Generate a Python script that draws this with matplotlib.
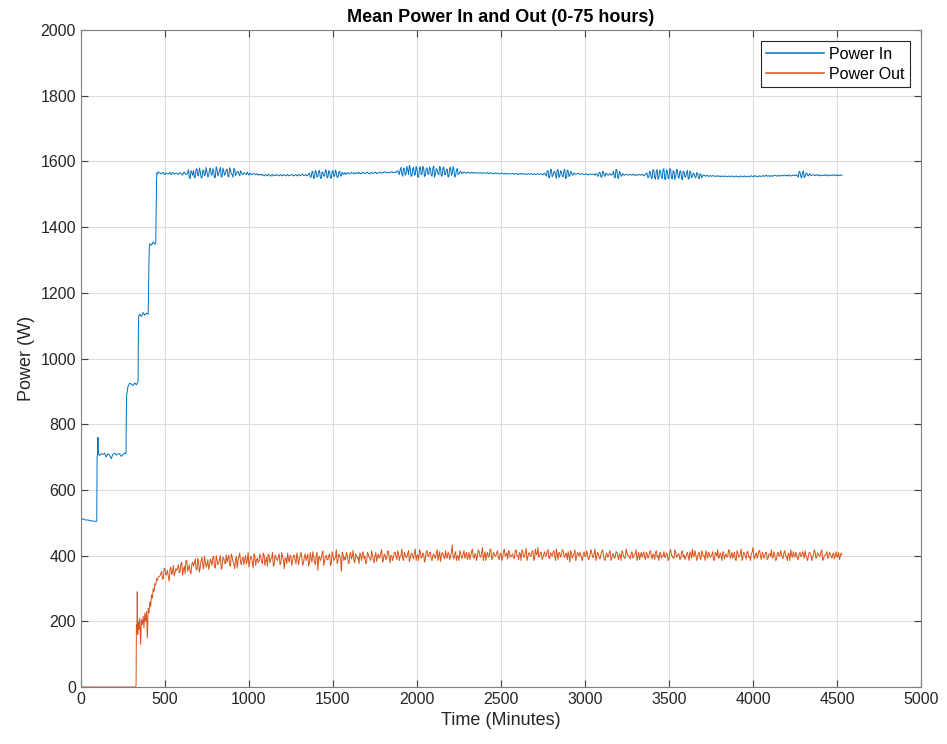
import numpy as np
import matplotlib
matplotlib.use("Agg")
from matplotlib import pyplot as plt

# ---- Power In: start-up steps (explicit times) ----
in_step_t = [0, 1, 2, 3, 4, 5, 10, 20, 30, 40, 50, 60, 70, 80, 90, 94, 96, 100, 101, 102,
             110, 120, 130, 140, 150, 160, 170, 180, 190, 200, 210, 220, 230, 240, 250, 260,
             268, 270, 272, 274, 280, 285, 290, 300, 310, 320, 330, 340, 342, 344, 350, 360,
             370, 380, 390, 400, 405, 407, 410, 420, 430, 440, 445, 450, 452, 455, 460]
in_step_v = [0, 300, 510, 515, 512, 510, 512, 510, 508, 509, 507, 506, 505, 505, 504, 505, 700, 715, 760, 712,
             705, 710, 708, 712, 700, 710, 706, 695, 708, 712, 706, 710, 710, 702, 708, 712,
             710, 830, 890, 895, 915, 920, 925, 922, 918, 926, 920, 930, 1100, 1130, 1135, 1128,
             1140, 1132, 1138, 1135, 1300, 1340, 1350, 1345, 1355, 1348, 1352, 1540, 1565, 1562, 1568]

# ---- Power In: steady part, minutes 470, 480, ... 4530 ----
in_steady = [
    1565, 1562, 1566, 1560, 1564, 1562, 1567, 1561, 1565, 1563,
    1564, 1560, 1566, 1562, 1565, 1563, 1561, 1575, 1548, 1566,
    1572, 1552, 1578, 1556, 1570, 1549, 1574, 1560, 1568, 1555,
    1580, 1558, 1571, 1552, 1576, 1562, 1582, 1555, 1570, 1563,
    1577, 1553, 1574, 1560, 1579, 1557, 1568, 1562, 1572, 1560,
    1566, 1562, 1568, 1558, 1564, 1561, 1563, 1559, 1562, 1560,
    1558, 1561, 1556, 1560, 1557, 1559, 1555, 1560, 1558, 1557,
    1559, 1556, 1560, 1557, 1558, 1556, 1561, 1557, 1559, 1558,
    1557, 1560, 1556, 1559, 1558, 1561, 1557, 1560, 1558, 1565,
    1552, 1570, 1550, 1568, 1555, 1573, 1548, 1566, 1556, 1571,
    1553, 1569, 1549, 1572, 1556, 1566, 1552, 1570, 1558, 1563,
    1566, 1561, 1565, 1563, 1567, 1564, 1562, 1566, 1563, 1565,
    1564, 1567, 1563, 1566, 1565, 1562, 1567, 1564, 1566, 1563,
    1565, 1567, 1564, 1566, 1568, 1565, 1567, 1566, 1569, 1566,
    1568, 1570, 1567, 1575, 1562, 1580, 1558, 1585, 1560, 1578,
    1556, 1582, 1560, 1576, 1553, 1584, 1562, 1579, 1558, 1581,
    1561, 1577, 1555, 1586, 1562, 1574, 1559, 1580, 1557, 1583,
    1560, 1577, 1554, 1582, 1563, 1575, 1556, 1579, 1562, 1570,
    1566, 1568, 1565, 1567, 1566, 1564, 1567, 1565, 1566, 1564,
    1565, 1566, 1563, 1565, 1564, 1566, 1563, 1565, 1562, 1564,
    1563, 1565, 1562, 1564, 1563, 1562, 1564, 1561, 1563, 1562,
    1564, 1561, 1563, 1560, 1562, 1564, 1561, 1563, 1560, 1562,
    1561, 1563, 1560, 1562, 1561, 1563, 1560, 1562, 1559, 1564,
    1555, 1572, 1552, 1575, 1558, 1570, 1548, 1574, 1556, 1568,
    1553, 1576, 1550, 1571, 1557, 1566, 1560, 1563, 1561, 1564,
    1562, 1563, 1561, 1560, 1562, 1559, 1561, 1560, 1562, 1558,
    1563, 1556, 1566, 1552, 1568, 1555, 1561, 1558, 1562, 1560,
    1570, 1550, 1574, 1548, 1566, 1556, 1560, 1559, 1561, 1558,
    1560, 1558, 1561, 1557, 1559, 1560, 1558, 1561, 1556, 1560,
    1563, 1553, 1568, 1550, 1572, 1546, 1575, 1552, 1570, 1548,
    1578, 1545, 1572, 1550, 1576, 1547, 1569, 1553, 1574, 1549,
    1571, 1544, 1568, 1552, 1573, 1548, 1566, 1555, 1562, 1550,
    1564, 1547, 1560, 1556, 1558, 1555, 1557, 1556, 1555, 1557,
    1556, 1554, 1557, 1555, 1553, 1556, 1554, 1555, 1553, 1556,
    1554, 1555, 1553, 1556, 1554, 1552, 1555, 1553, 1556, 1554,
    1555, 1553, 1556, 1554, 1557, 1555, 1553, 1556, 1554, 1557,
    1555, 1558, 1556, 1554, 1557, 1555, 1558, 1556, 1557, 1555,
    1558, 1556, 1559, 1557, 1555, 1558, 1556, 1559, 1557, 1560,
    1552, 1568, 1550, 1572, 1554, 1565, 1556, 1562, 1558, 1560,
    1557, 1560, 1558, 1556, 1559, 1557, 1560, 1558, 1556, 1559,
    1557, 1560, 1558, 1556, 1559, 1557, 1558]

# ---- Power In: in-between readings, minutes 475, 485, ... 4525 ----
in_mid = [
    1563, 1566, 1561, 1565, 1562, 1564, 1560, 1566, 1562, 1564,
    1562, 1565, 1563, 1558, 1568, 1560, 1565, 1550, 1572, 1558,
    1550, 1575, 1558, 1580, 1552, 1572, 1556, 1582, 1553, 1576,
    1560, 1578, 1550, 1584, 1556, 1574, 1552, 1580, 1558, 1575,
    1555, 1581, 1562, 1552, 1575, 1564, 1570, 1556, 1566, 1561,
    1563, 1560, 1562, 1564, 1559, 1563, 1560, 1562, 1558, 1561,
    1560, 1557, 1559, 1556, 1561, 1557, 1559, 1556, 1559, 1560,
    1557, 1559, 1556, 1560, 1557, 1559, 1556, 1558, 1560, 1556,
    1559, 1557, 1560, 1556, 1560, 1557, 1559, 1556, 1561, 1552,
    1568, 1548, 1573, 1552, 1570, 1549, 1568, 1555, 1575, 1550,
    1572, 1550, 1570, 1554, 1574, 1551, 1568, 1555, 1567, 1560,
    1563, 1566, 1562, 1565, 1564, 1566, 1563, 1565, 1567, 1562,
    1566, 1563, 1565, 1567, 1563, 1566, 1564, 1565, 1567, 1564,
    1567, 1565, 1566, 1568, 1566, 1567, 1565, 1568, 1566, 1567,
    1566, 1572, 1560, 1582, 1555, 1578, 1562, 1575, 1588, 1555,
    1578, 1558, 1585, 1552, 1580, 1560, 1586, 1554, 1577, 1561,
    1583, 1558, 1580, 1552, 1578, 1563, 1585, 1555, 1579, 1560,
    1575, 1553, 1580, 1558, 1584, 1552, 1574, 1560, 1568, 1563,
    1565, 1567, 1564, 1566, 1565, 1567, 1564, 1566, 1565, 1565,
    1564, 1565, 1566, 1564, 1565, 1563, 1566, 1564, 1563, 1565,
    1564, 1563, 1562, 1565, 1562, 1564, 1562, 1563, 1562, 1563,
    1562, 1563, 1561, 1563, 1561, 1562, 1563, 1562, 1561, 1563,
    1562, 1561, 1563, 1560, 1562, 1561, 1562, 1561, 1563, 1560,
    1570, 1550, 1576, 1553, 1568, 1558, 1575, 1551, 1572, 1555,
    1572, 1548, 1574, 1554, 1570, 1558, 1565, 1561, 1563, 1562,
    1561, 1562, 1560, 1562, 1560, 1561, 1562, 1560, 1561, 1562,
    1555, 1567, 1553, 1570, 1556, 1565, 1559, 1562, 1558, 1561,
    1552, 1576, 1551, 1570, 1555, 1563, 1558, 1561, 1559, 1560,
    1559, 1561, 1558, 1560, 1558, 1561, 1559, 1560, 1558, 1565,
    1550, 1570, 1548, 1576, 1550, 1572, 1545, 1574, 1552, 1575,
    1546, 1574, 1548, 1578, 1550, 1572, 1545, 1576, 1552, 1570,
    1548, 1570, 1553, 1566, 1546, 1571, 1550, 1565, 1552, 1566,
    1552, 1563, 1550, 1559, 1556, 1558, 1554, 1557, 1555, 1556,
    1555, 1556, 1554, 1556, 1555, 1554, 1556, 1554, 1555, 1554,
    1556, 1553, 1555, 1554, 1553, 1556, 1554, 1555, 1553, 1555,
    1554, 1556, 1555, 1553, 1556, 1554, 1556, 1555, 1556, 1555,
    1557, 1555, 1557, 1556, 1555, 1558, 1557, 1555, 1558, 1556,
    1557, 1558, 1556, 1558, 1559, 1556, 1558, 1557, 1558, 1555,
    1570, 1553, 1566, 1551, 1563, 1558, 1561, 1557, 1559, 1558,
    1559, 1557, 1559, 1557, 1558, 1558, 1556, 1559, 1557, 1558,
    1559, 1557, 1559, 1558, 1557, 1559]

# ---- Power Out: start-up (explicit times) ----
out_step_t = [0, 100, 200, 300, 325, 328, 330, 333, 335, 338, 340, 345, 350, 355, 360, 365, 370,
              375, 380, 385, 390, 395, 400, 405, 410, 415, 420, 425, 430, 435, 440, 445, 450,
              455, 460]
out_step_v = [0, 0, 0, 0, 0, 5, 190, 170, 290, 160, 200, 175, 210, 130, 205, 190, 215,
              180, 225, 200, 230, 150, 240, 225, 260, 245, 280, 270, 300, 290, 315, 310, 330,
              325, 335]

# ---- Power Out: minutes 470, 480, ... 4530 ----
out_steady = [
    338, 352, 330, 360, 345, 335, 358, 342, 370, 348,
    355, 372, 350, 380, 358, 345, 385, 362, 350, 375,
    368, 390, 355, 378, 365, 395, 360, 383, 372, 358,
    390, 370, 398, 362, 385, 378, 400, 365, 392, 375,
    380, 402, 368, 395, 375, 388, 362, 398, 380, 392,
    372, 400, 385, 365, 398, 380, 405, 370, 392, 384,
    395, 375, 402, 385, 368, 400, 390, 410, 372, 395,
    385, 405, 378, 398, 360, 392, 408, 380, 396, 385,
    402, 375, 395, 388, 410, 370, 398, 385, 405, 378,
    392, 412, 380, 400, 355, 398, 390, 415, 382, 402,
    388, 405, 375, 400, 392, 418, 385, 398, 352, 404,
    395, 410, 383, 402, 390, 416, 378, 400, 395, 408,
    385, 412, 398, 380, 405, 392, 415, 388, 400, 382,
    405, 395, 418, 385, 402, 390, 412, 378, 400, 395,
    410, 388, 405, 398, 420, 385, 402, 395, 415, 392,
    408, 390, 420, 400, 385, 412, 395, 405, 388, 415,
    398, 410, 385, 405, 392, 418, 400, 382, 410, 395,
    415, 392, 405, 398, 432, 390, 412, 400, 385, 408,
    395, 415, 402, 388, 410, 398, 420, 392, 405, 400,
    412, 395, 425, 400, 385, 410, 398, 418, 392, 405,
    400, 415, 388, 408, 395, 420, 402, 390, 412, 398,
    405, 392, 418, 400, 410, 385, 412, 398, 422, 395,
    408, 400, 415, 390, 405, 425, 398, 410, 395, 412,
    400, 418, 392, 405, 410, 398, 420, 388, 408, 402,
    415, 395, 405, 412, 380, 408, 400, 418, 395, 405,
    410, 392, 405, 398, 415, 388, 402, 410, 395, 420,
    398, 405, 390, 412, 400, 385, 408, 398, 415, 392,
    405, 395, 410, 388, 402, 415, 398, 392, 408, 400,
    390, 412, 398, 405, 385, 410, 400, 395, 412, 388,
    405, 398, 415, 390, 402, 410, 395, 385, 408, 400,
    412, 395, 405, 388, 418, 400, 392, 410, 398, 405,
    390, 415, 402, 395, 410, 385, 405, 420, 398, 402,
    395, 410, 388, 405, 400, 415, 392, 408, 398, 412,
    385, 405, 418, 395, 402, 410, 390, 405, 398, 415,
    400, 392, 410, 385, 408, 398, 420, 395, 405, 390,
    412, 398, 405, 425, 390, 408, 400, 415, 388, 405,
    398, 410, 392, 405, 418, 395, 402, 388, 410, 400,
    405, 392, 415, 398, 408, 385, 402, 412, 395, 405,
    390, 410, 398, 405, 415, 392, 400, 408, 385, 402,
    410, 395, 405, 398, 418, 390, 402, 412, 395, 405,
    392, 408, 400, 395, 410, 398, 402]

# ---- Power Out: in-between readings, minutes 475, 485, ... 4525 ----
out_mid = [
    345, 328, 362, 340, 355, 322, 365, 350, 338, 360,
    362, 348, 375, 340, 368, 385, 352, 372, 345, 380,
    378, 360, 392, 350, 385, 372, 398, 365, 388, 370,
    382, 395, 365, 400, 372, 390, 358, 395, 378, 402,
    392, 370, 405, 382, 360, 398, 385, 408, 372, 395,
    390, 375, 410, 382, 395, 362, 400, 388, 378, 405,
    382, 408, 370, 395, 405, 378, 392, 368, 402, 388,
    398, 372, 410, 385, 392, 375, 388, 402, 370, 400,
    385, 408, 372, 400, 392, 378, 405, 395, 368, 410,
    380, 398, 372, 410, 392, 385, 405, 370, 398, 388,
    400, 370, 412, 385, 395, 375, 405, 392, 410, 385,
    388, 402, 375, 410, 398, 385, 405, 392, 375, 402,
    405, 390, 375, 410, 395, 385, 402, 378, 410, 398,
    392, 410, 380, 405, 388, 415, 395, 400, 385, 410,
    398, 415, 385, 402, 390, 410, 395, 408, 382, 405,
    395, 410, 385, 402, 418, 392, 408, 380, 412, 398,
    410, 388, 402, 395, 408, 385, 412, 398, 405, 390,
    398, 410, 388, 412, 395, 405, 385, 398, 415, 392,
    405, 392, 410, 398, 388, 412, 395, 405, 385, 418,
    398, 408, 385, 412, 402, 395, 420, 388, 410, 398,
    410, 392, 405, 385, 412, 398, 408, 415, 395, 402,
    392, 415, 400, 388, 405, 418, 395, 410, 385, 408,
    398, 412, 385, 420, 402, 395, 410, 388, 405, 398,
    412, 392, 408, 398, 415, 385, 405, 410, 395, 418,
    398, 408, 388, 400, 415, 392, 405, 385, 410, 398,
    402, 385, 412, 398, 405, 390, 418, 395, 408, 385,
    410, 392, 405, 418, 388, 402, 395, 410, 385, 405,
    392, 412, 398, 405, 385, 410, 392, 420, 400, 395,
    408, 392, 405, 418, 398, 388, 410, 402, 395, 410,
    392, 412, 398, 405, 388, 415, 400, 410, 392, 398,
    395, 408, 385, 412, 400, 392, 418, 395, 405, 388,
    410, 395, 388, 405, 398, 412, 392, 400, 415, 385,
    408, 392, 415, 398, 385, 405, 410, 395, 402, 388,
    410, 398, 392, 408, 385, 412, 400, 395, 418, 392,
    410, 402, 388, 415, 395, 405, 385, 410, 398, 412,
    395, 385, 410, 398, 405, 392, 415, 398, 410, 392,
    410, 388, 405, 398, 392, 412, 385, 408, 398, 415,
    392, 410, 398, 385, 405, 418, 395, 400, 410, 388,
    405, 398, 412, 392, 400, 385, 410, 402, 395, 418,
    392, 408, 398, 412, 385, 400, 405, 392, 410, 398,
    405, 390, 412, 398, 388, 408]

steady_t = np.arange(470, 4531, 10)
mid_t = np.arange(475, 4526, 10)


def join(step_t, step_v, steady_v, mid_v):
    t = np.concatenate([step_t, steady_t, mid_t])
    v = np.concatenate([step_v, steady_v, mid_v])
    order = np.argsort(t, kind='stable')
    return t[order], v[order]


t_in, p_in = join(in_step_t, in_step_v, in_steady, in_mid)
t_out, p_out = join(out_step_t, out_step_v, out_steady, out_mid)

plt.rcParams['font.family'] = ['Liberation Sans', 'DejaVu Sans']

fig = plt.figure(figsize=(9.47, 7.44), dpi=100)
ax = fig.add_axes([0.0855, 0.0766, 0.887, 0.883])

ax.plot(t_in, p_in, color='#0072BD', lw=0.7, label='Power In')
ax.plot(t_out, p_out, color='#D95319', lw=0.7, label='Power Out')

ax.set_xlim(0, 5000)
ax.set_ylim(0, 2000)
ax.set_xticks(np.arange(0, 5001, 500))
ax.set_yticks(np.arange(0, 2001, 200))
ax.grid(True, color='#dcdcdc', lw=0.8)
ax.set_axisbelow(True)
for s in ax.spines.values():
    s.set_color('#808080')
    s.set_linewidth(0.8)
ax.tick_params(direction='in', top=True, right=True, length=5, width=0.8,
               color='#404040', labelsize=11.5, labelcolor='#262626')

ax.set_xlabel('Time (Minutes)', fontsize=13, color='#262626')
ax.set_ylabel('Power (W)', fontsize=13, color='#262626')
ax.set_title('Mean Power In and Out (0-75 hours)', fontsize=13, fontweight='bold', pad=6)

leg = ax.legend(loc='upper right', fontsize=11.5, fancybox=False, framealpha=1,
                edgecolor='#262626', borderaxespad=0.7, handlelength=3.6,
                handletextpad=0.3, borderpad=0.35, labelspacing=0.3)
leg.get_frame().set_linewidth(0.8)
for h in leg.get_lines():
    h.set_linewidth(1.1)

fig.savefig('out.png', dpi=100)
